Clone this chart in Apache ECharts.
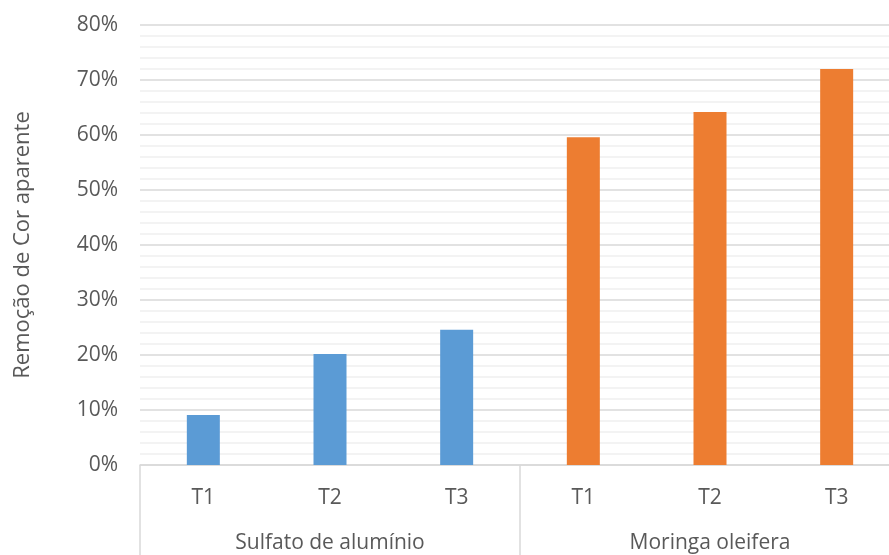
<!DOCTYPE html>
<html>
<head>
<meta charset="utf-8">
<script src="https://cdn.jsdelivr.net/npm/echarts@6/dist/echarts.min.js"></script>
<style>
  html, body { margin: 0; padding: 0; background: #fff; overflow: hidden; }
  #chart { width: 900px; height: 555px; }
</style>
</head>
<body>
<div id="chart"></div>
<script>
// Colour removal (%) for each coagulant and treatment
const groups = ['Sulfato de alumínio', 'Moringa oleifera'];
const treatments = ['T1', 'T2', 'T3'];
const sulfatoValues = [9.1, 20.2, 24.6];
const moringaValues = [59.6, 64.2, 72.0];
const yTicks = [0, 10, 20, 30, 40, 50, 60, 70, 80];
const yTitle = 'Remoção de Cor aparente';

const colors = ['#5B9BD5', '#ED7D31'];
const font = 'Open Sans';
const textColor = '#595959';

// One slot per group/treatment pair on the inner axis
const categories = [];
groups.forEach(g => treatments.forEach(t => categories.push(g + '|' + t)));

const seriesValues = [sulfatoValues, moringaValues];
const barData = [];
seriesValues.forEach((vals, gi) => {
  vals.forEach(v => barData.push({ value: v, itemStyle: { color: colors[gi] } }));
});

const chart = echarts.init(document.getElementById('chart'), null, { renderer: 'canvas' });
chart.setOption({
  animation: false,
  backgroundColor: '#ffffff',
  grid: { left: 140, right: 0, top: 25, bottom: 90, containLabel: false, outerBoundsMode: 'none' },
  xAxis: [
    {
      type: 'category',
      data: categories,
      position: 'bottom',
      axisLine: { show: true, lineStyle: { color: '#d9d9d9', width: 1.5 } },
      axisTick: { show: false },
      axisLabel: {
        color: textColor, fontFamily: font, fontSize: 21, margin: 23,
        formatter: v => v.split('|')[1]
      },
      splitLine: { show: false }
    },
    {
      type: 'category',
      data: groups,
      position: 'bottom',
      axisLine: { show: false },
      axisTick: { show: true, length: 92, lineStyle: { color: '#d9d9d9', width: 1.5 } },
      axisLabel: { color: textColor, fontFamily: font, fontSize: 21, margin: 68 },
      splitLine: { show: false }
    }
  ],
  yAxis: {
    type: 'value',
    min: yTicks[0],
    max: yTicks[yTicks.length - 1],
    interval: 10,
    name: yTitle,
    nameLocation: 'middle',
    nameGap: 106,
    nameRotate: 90,
    nameTextStyle: { color: textColor, fontFamily: font, fontSize: 22 },
    axisLine: { show: false },
    axisTick: { show: false },
    axisLabel: {
      color: textColor, fontFamily: font, fontSize: 21, margin: 22,
      formatter: v => v + '%'
    },
    splitLine: { show: true, lineStyle: { color: '#d9d9d9', width: 1.5 } },
    minorTick: { show: false, splitNumber: 5 },
    minorSplitLine: { show: true, lineStyle: { color: '#efefef', width: 1.5 } }
  },
  series: [
    {
      type: 'bar',
      xAxisIndex: 0,
      data: barData,
      barWidth: 33
    }
  ]
});
</script>
</body>
</html>
